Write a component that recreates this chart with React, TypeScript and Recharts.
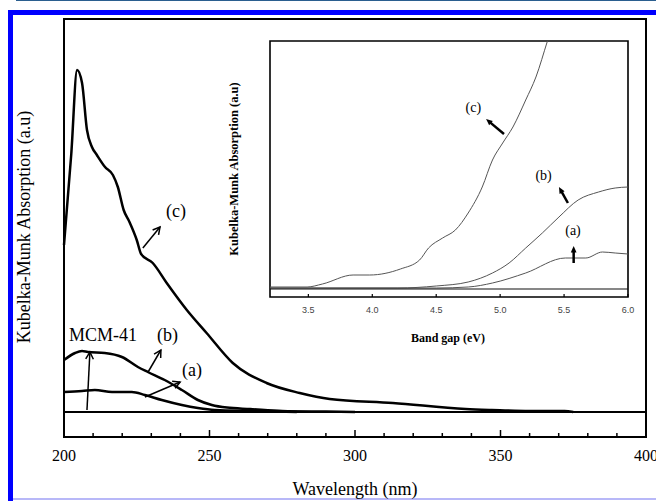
import { LineChart, Line, XAxis, YAxis, ReferenceArea, ReferenceLine, ReferenceDot } from 'recharts'

// ── Data: main spectrum (wavelength nm / Kubelka-Munk a.u.) ──────────────────

const wlC = [200, 202.5, 204.5, 206.2, 207.9, 209.6, 211.3, 214.1, 216.8, 218.5, 220.5, 222.5, 225, 226.5, 230.5, 235.3, 242.2, 249, 258, 269.6, 281, 291.3, 313, 338, 347, 360, 372, 375]
const absC = [41.75, 64.5, 85.5, 82.25, 70.5, 66.25, 64.25, 61.25, 59.25, 56.25, 50.5, 47.5, 43, 39.5, 37.25, 32.25, 25.5, 19.75, 12.25, 7.25, 4.75, 3.25, 2.25, 0.75, 0.5, 0.25, 0.25, 0]

const wlB = [200, 203.8, 206.2, 208.2, 214, 219.9, 225.4, 228.8, 234.6, 240.5, 246, 250.8, 256, 264, 275, 290, 300]
const absB = [13, 14.75, 15.25, 15, 14.75, 13.75, 11.25, 10, 8, 5.5, 3, 1.75, 1.1, 0.75, 0.25, 0.1, 0]

const wlA = [200, 206.2, 210.6, 216.5, 223.3, 227.8, 233.6, 240.5, 246, 251.8, 265, 280]
const absA = [5, 5.25, 5.5, 5, 5, 4.25, 3, 1.75, 1, 0.5, 0.25, 0]

const wlMCM = [200, 400]
const absMCM = [0, 0]

const wlTicks = [200, 210, 220, 230, 240, 250, 260, 270, 280, 290, 300, 310, 320, 330, 340, 350, 360, 370, 380, 390, 400]

// ── Data: inset (band gap eV) ─────────────────────────────────────────────────

const evC = [3.2, 3.49, 3.61, 3.85, 3.98, 4.22, 4.37, 4.44, 4.55, 4.65, 4.75, 4.86, 4.94, 5.02, 5.1, 5.2, 5.28, 5.37, 5.42]
const kmC = [2, 2, 5, 14, 14, 20, 29, 41, 51, 59, 76, 102, 129, 146, 162, 189, 212, 248, 268]

const evB = [3.2, 4.2, 4.5, 4.75, 4.94, 5.07, 5.2, 5.33, 5.46, 5.61, 5.77, 5.9, 6.0]
const kmB = [1, 1, 3, 7, 16, 26, 41, 56, 72, 89, 97, 101, 102]

const evA = [3.2, 4.5, 4.75, 4.94, 5.2, 5.51, 5.67, 5.8, 5.9, 6.0]
const kmA = [1, 1, 2, 6, 16, 31, 31, 37, 36, 35]

const evMCM = [3.2, 6.0]
const kmMCM = [0, 0]

const evTicks = [3.5, 4.0, 4.5, 5.0, 5.5, 6.0]

// ── Helpers ───────────────────────────────────────────────────────────────────

const SERIF = "'Liberation Serif', 'DejaVu Serif', serif"
const SANS = "'Liberation Sans', Arial, sans-serif"

const zip = (xs: number[], ys: number[]) => xs.map((x, i) => ({ x, y: ys[i] }))

function arrowShape(filled: boolean, width: number, head: number) {
  return (p: any) => {
    const { x1, y1, x2, y2 } = p
    const a = Math.atan2(y2 - y1, x2 - x1)
    const s = filled ? 0.42 : 0.5
    const ax = x2 - head * Math.cos(a - s)
    const ay = y2 - head * Math.sin(a - s)
    const bx = x2 - head * Math.cos(a + s)
    const by = y2 - head * Math.sin(a + s)
    const ex = filled ? x2 - head * 0.8 * Math.cos(a) : x2
    const ey = filled ? y2 - head * 0.8 * Math.sin(a) : y2
    return (
      <g>
        <line x1={x1} y1={y1} x2={ex} y2={ey} stroke="#000" strokeWidth={width} />
        {filled ? (
          <polygon points={`${x2},${y2} ${ax},${ay} ${bx},${by}`} fill="#000" />
        ) : (
          <polyline points={`${ax},${ay} ${x2},${y2} ${bx},${by}`} fill="none" stroke="#000" strokeWidth={width} />
        )}
      </g>
    )
  }
}

function textShape(text: string, size: number) {
  return (p: any) => (
    <text x={p.cx} y={p.cy} textAnchor="middle" dominantBaseline="central" fontFamily={SERIF} fontSize={size} fill="#000">
      {text}
    </text>
  )
}

const MainTick = (p: any) => {
  const { x, y, payload } = p
  const major = payload.value % 50 === 0
  return (
    <g>
      <line x1={x} x2={x} y1={y} y2={y - (major ? 7 : 4)} stroke="#000" strokeWidth={1.5} />
      {major && (
        <text x={x} y={y + 24} textAnchor="middle" fontFamily={SERIF} fontSize={16} fill="#000">
          {payload.value}
        </text>
      )}
    </g>
  )
}

const InsetTick = (p: any) => {
  const { x, y, payload } = p
  return (
    <g>
      <line x1={x} x2={x} y1={y} y2={y - 3} stroke="#000" strokeWidth={1.2} />
      <text x={x} y={y + 16} textAnchor="middle" fontFamily={SANS} fontSize={9} fill="#444">
        {payload.value.toFixed(1)}
      </text>
    </g>
  )
}

// ── Charts ────────────────────────────────────────────────────────────────────

function MainChart() {
  const series = [
    { key: 'c', data: zip(wlC, absC) },
    { key: 'b', data: zip(wlB, absB) },
    { key: 'a', data: zip(wlA, absA) },
    { key: 'mcm', data: zip(wlMCM, absMCM) },
  ]
  return (
    <LineChart width={656} height={501} margin={{ top: 19, right: 10, bottom: 34, left: 64 }}>
      <XAxis
        type="number"
        dataKey="x"
        domain={[200, 400]}
        ticks={wlTicks}
        interval={0}
        tickSize={0}
        tickMargin={0}
        axisLine={false}
        tickLine={false}
        tick={MainTick}
        height={30}
      />
      <YAxis type="number" dataKey="y" domain={[-6.25, 98.25]} hide allowDataOverflow />
      <ReferenceArea x1={200} x2={400} y1={-6.25} y2={98.25} fill="none" stroke="#000" strokeWidth={2} ifOverflow="visible" />
      {series.map((s) => (
        <Line
          key={s.key}
          data={s.data}
          dataKey="y"
          type="monotone"
          stroke="#000"
          strokeWidth={s.key === 'mcm' ? 2 : 2.5}
          dot={false}
          activeDot={false}
          isAnimationActive={false}
        />
      ))}
      <ReferenceLine segment={[{ x: 227.1, y: 41 }, { x: 233, y: 46.25 }]} shape={arrowShape(false, 1.5, 8)} ifOverflow="visible" />
      <ReferenceLine segment={[{ x: 228.9, y: 10 }, { x: 233.3, y: 15.5 }]} shape={arrowShape(false, 1.5, 8)} ifOverflow="visible" />
      <ReferenceLine segment={[{ x: 227.8, y: 3.75 }, { x: 239.9, y: 7.5 }]} shape={arrowShape(false, 1.5, 8)} ifOverflow="visible" />
      <ReferenceLine segment={[{ x: 207.9, y: 0.5 }, { x: 208.9, y: 15 }]} shape={arrowShape(false, 1.5, 8)} ifOverflow="visible" />
      <ReferenceDot x={238.5} y={50.25} shape={textShape('(c)', 18)} ifOverflow="visible" />
      <ReferenceDot x={235.6} y={19.25} shape={textShape('(b)', 18)} ifOverflow="visible" />
      <ReferenceDot x={244} y={10.5} shape={textShape('(a)', 18)} ifOverflow="visible" />
      <ReferenceDot x={213.4} y={19.25} shape={textShape('MCM-41', 18)} ifOverflow="visible" />
    </LineChart>
  )
}

function InsetChart() {
  const series = [
    { key: 'c', data: zip(evC, kmC), color: '#555', w: 1 },
    { key: 'b', data: zip(evB, kmB), color: '#555', w: 1 },
    { key: 'a', data: zip(evA, kmA), color: '#555', w: 1 },
    { key: 'mcm', data: zip(evMCM, kmMCM), color: '#111', w: 1.2 },
  ]
  return (
    <LineChart width={656} height={501} margin={{ top: 41, right: 28, bottom: 184, left: 270 }}>
      <XAxis
        type="number"
        dataKey="x"
        domain={[3.2, 6.0]}
        ticks={evTicks}
        interval={0}
        tickSize={0}
        tickMargin={0}
        axisLine={false}
        tickLine={false}
        tick={InsetTick}
        height={20}
      />
      <YAxis type="number" dataKey="y" domain={[-8, 248]} hide allowDataOverflow />
      <ReferenceArea x1={3.2} x2={6.0} y1={-8} y2={248} fill="none" stroke="#000" strokeWidth={1.6} ifOverflow="visible" />
      {series.map((s) => (
        <Line
          key={s.key}
          data={s.data}
          dataKey="y"
          type="monotone"
          stroke={s.color}
          strokeWidth={s.w}
          dot={false}
          activeDot={false}
          isAnimationActive={false}
        />
      ))}
      <ReferenceLine segment={[{ x: 5.03, y: 155 }, { x: 4.89, y: 170 }]} shape={arrowShape(true, 2.5, 7)} ifOverflow="visible" />
      <ReferenceLine segment={[{ x: 5.53, y: 86 }, { x: 5.46, y: 102 }]} shape={arrowShape(true, 2.5, 7)} ifOverflow="visible" />
      <ReferenceLine segment={[{ x: 5.575, y: 26 }, { x: 5.575, y: 43 }]} shape={arrowShape(true, 2.5, 7)} ifOverflow="visible" />
      <ReferenceDot x={4.79} y={182} shape={textShape('(c)', 14)} ifOverflow="visible" />
      <ReferenceDot x={5.34} y={114} shape={textShape('(b)', 14)} ifOverflow="visible" />
      <ReferenceDot x={5.57} y={59} shape={textShape('(a)', 14)} ifOverflow="visible" />
    </LineChart>
  )
}

export default function App() {
  const layer: React.CSSProperties = { position: 'absolute', left: 0, top: 0 }
  return (
    <div style={{ position: 'absolute', left: 0, top: 0, width: 656, height: 501, background: '#fff', overflow: 'hidden' }}>
      {/* page frame */}
      <div style={{ position: 'absolute', left: 16, top: 0, width: 640, height: 1, background: '#2b5f8f' }} />
      <div style={{ position: 'absolute', left: 8, top: 10, width: 648, height: 5, background: '#0000ff' }} />
      <div style={{ position: 'absolute', left: 8, top: 10, width: 5, height: 491, background: '#0000ff' }} />
      <div style={{ position: 'absolute', left: 13, top: 498, width: 643, height: 2, background: '#b8b8f8' }} />
      <div style={layer}>
        <MainChart />
      </div>
      <div style={layer}>
        <InsetChart />
      </div>
      <svg width={656} height={501} style={{ ...layer, pointerEvents: 'none' }}>
        <text x={355} y={495} textAnchor="middle" fontFamily={SERIF} fontSize={18} fill="#000">
          Wavelength (nm)
        </text>
        <text
          transform="translate(30 227) rotate(-90)"
          textAnchor="middle"
          fontFamily={SERIF}
          fontSize={18}
          fill="#000"
        >
          Kubelka-Munk Absorption (a.u)
        </text>
        <text x={448} y={342} textAnchor="middle" fontFamily={SERIF} fontSize={12} fontWeight="bold" fill="#000">
          Band gap (eV)
        </text>
        <text
          transform="translate(238 169) rotate(-90)"
          textAnchor="middle"
          fontFamily={SERIF}
          fontSize={12.5}
          fontWeight="bold"
          fill="#000"
        >
          Kubelka-Munk Absorption (a.u)
        </text>
      </svg>
    </div>
  )
}
